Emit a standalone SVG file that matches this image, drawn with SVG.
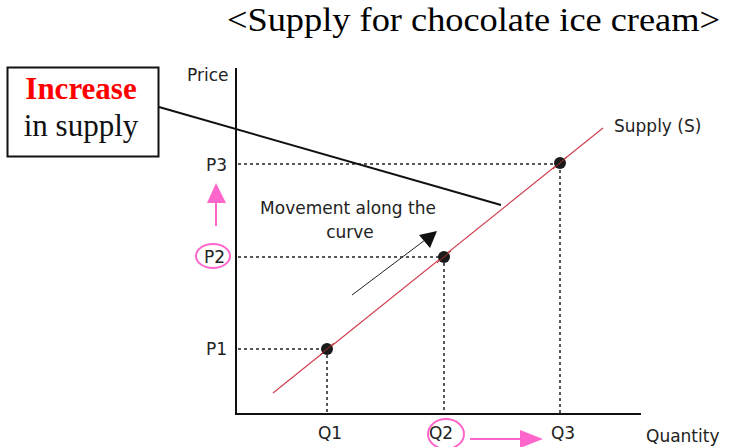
<svg xmlns="http://www.w3.org/2000/svg" width="732" height="447" viewBox="0 0 732 447">
<style>
.lbl{font-family:"DejaVu Sans",Verdana,sans-serif;font-size:17px;fill:#222}
.ser{font-family:"Liberation Serif","Times New Roman",serif}
.dash{stroke:#222;stroke-width:1.5;stroke-dasharray:3 3;fill:none}
.axis{stroke:#111;stroke-width:2;fill:none}
.pink{stroke:#ff66cc;stroke-width:2;fill:none}
.pinkfill{fill:#ff66cc}
.dot{fill:#1a1a1a}
</style>
<rect width="732" height="447" fill="#fff"/>
<g id="title"><text class="ser" x="227" y="31" font-size="33" textLength="493" lengthAdjust="spacingAndGlyphs">&lt;Supply for chocolate ice cream&gt;</text></g>
<g id="axes">
<line class="axis" x1="236" y1="68" x2="236" y2="414"/>
<line class="axis" x1="235" y1="414" x2="641" y2="414"/>
<text class="lbl" x="187" y="81">Price</text>
<text class="lbl" x="646" y="442">Quantity</text>
</g>
<g id="guides">
<line class="dash" x1="238" y1="164" x2="560" y2="164"/>
<line class="dash" x1="560" y1="164" x2="560" y2="413"/>
<line class="dash" x1="238" y1="257" x2="444" y2="257"/>
<line class="dash" x1="444" y1="257" x2="444" y2="413"/>
<line class="dash" x1="238" y1="349" x2="327" y2="349"/>
<line class="dash" x1="327" y1="349" x2="327" y2="413"/>
</g>
<g id="ticks">
<text class="lbl" x="206" y="171">P3</text>
<text class="lbl" x="204" y="263">P2</text>
<text class="lbl" x="206" y="355">P1</text>
<text class="lbl" x="330" y="439" text-anchor="middle">Q1</text>
<text class="lbl" x="441" y="439" text-anchor="middle">Q2</text>
<text class="lbl" x="563" y="439" text-anchor="middle">Q3</text>
</g>
<g id="supply-curve">
<line x1="273" y1="393" x2="603" y2="128" stroke="#d04050" stroke-width="1.2"/>
<text class="lbl" x="614" y="132">Supply (S)</text>
</g>
<g id="points">
<circle class="dot" cx="327" cy="349" r="6"/>
<circle class="dot" cx="444" cy="257" r="6"/>
<circle class="dot" cx="560" cy="163" r="6"/>
<line x1="320" y1="355" x2="334" y2="343" stroke="#b03030" stroke-width="1"/>
<line x1="437" y1="263" x2="451" y2="251" stroke="#b03030" stroke-width="1"/>
<line x1="553" y1="169" x2="567" y2="157" stroke="#b03030" stroke-width="1"/>
</g>
<g id="movement">
<text class="lbl" x="348" y="214" text-anchor="middle">Movement along the</text>
<text class="lbl" x="350" y="238" text-anchor="middle">curve</text>
<line x1="352" y1="295" x2="425" y2="240" stroke="#222" stroke-width="1"/>
<polygon points="437,231 419,235 430,248" fill="#111"/>
</g>
<g id="callout">
<rect x="7.5" y="67.5" width="151" height="89" fill="#fff" stroke="#111" stroke-width="2"/>
<text class="ser" x="81" y="99" font-size="31" font-weight="bold" fill="#ff0000" text-anchor="middle">Increase</text>
<text class="ser" x="81" y="136" font-size="31" fill="#111" text-anchor="middle">in supply</text>
</g>
<g id="connectors">
<line x1="159" y1="107" x2="501" y2="205" stroke="#111" stroke-width="2"/>
</g>
<g id="pink-marks">
<ellipse class="pink" cx="213" cy="256" rx="17" ry="12"/>
<line class="pink" x1="216" y1="226" x2="216" y2="200"/>
<polygon class="pinkfill" points="216,183 207,203 226,203"/>
<ellipse class="pink" cx="446" cy="434" rx="18" ry="15"/>
<line class="pink" x1="470" y1="439" x2="522" y2="439"/>
<polygon class="pinkfill" points="520,430 543,439 520,448"/>
</g>
</svg>
